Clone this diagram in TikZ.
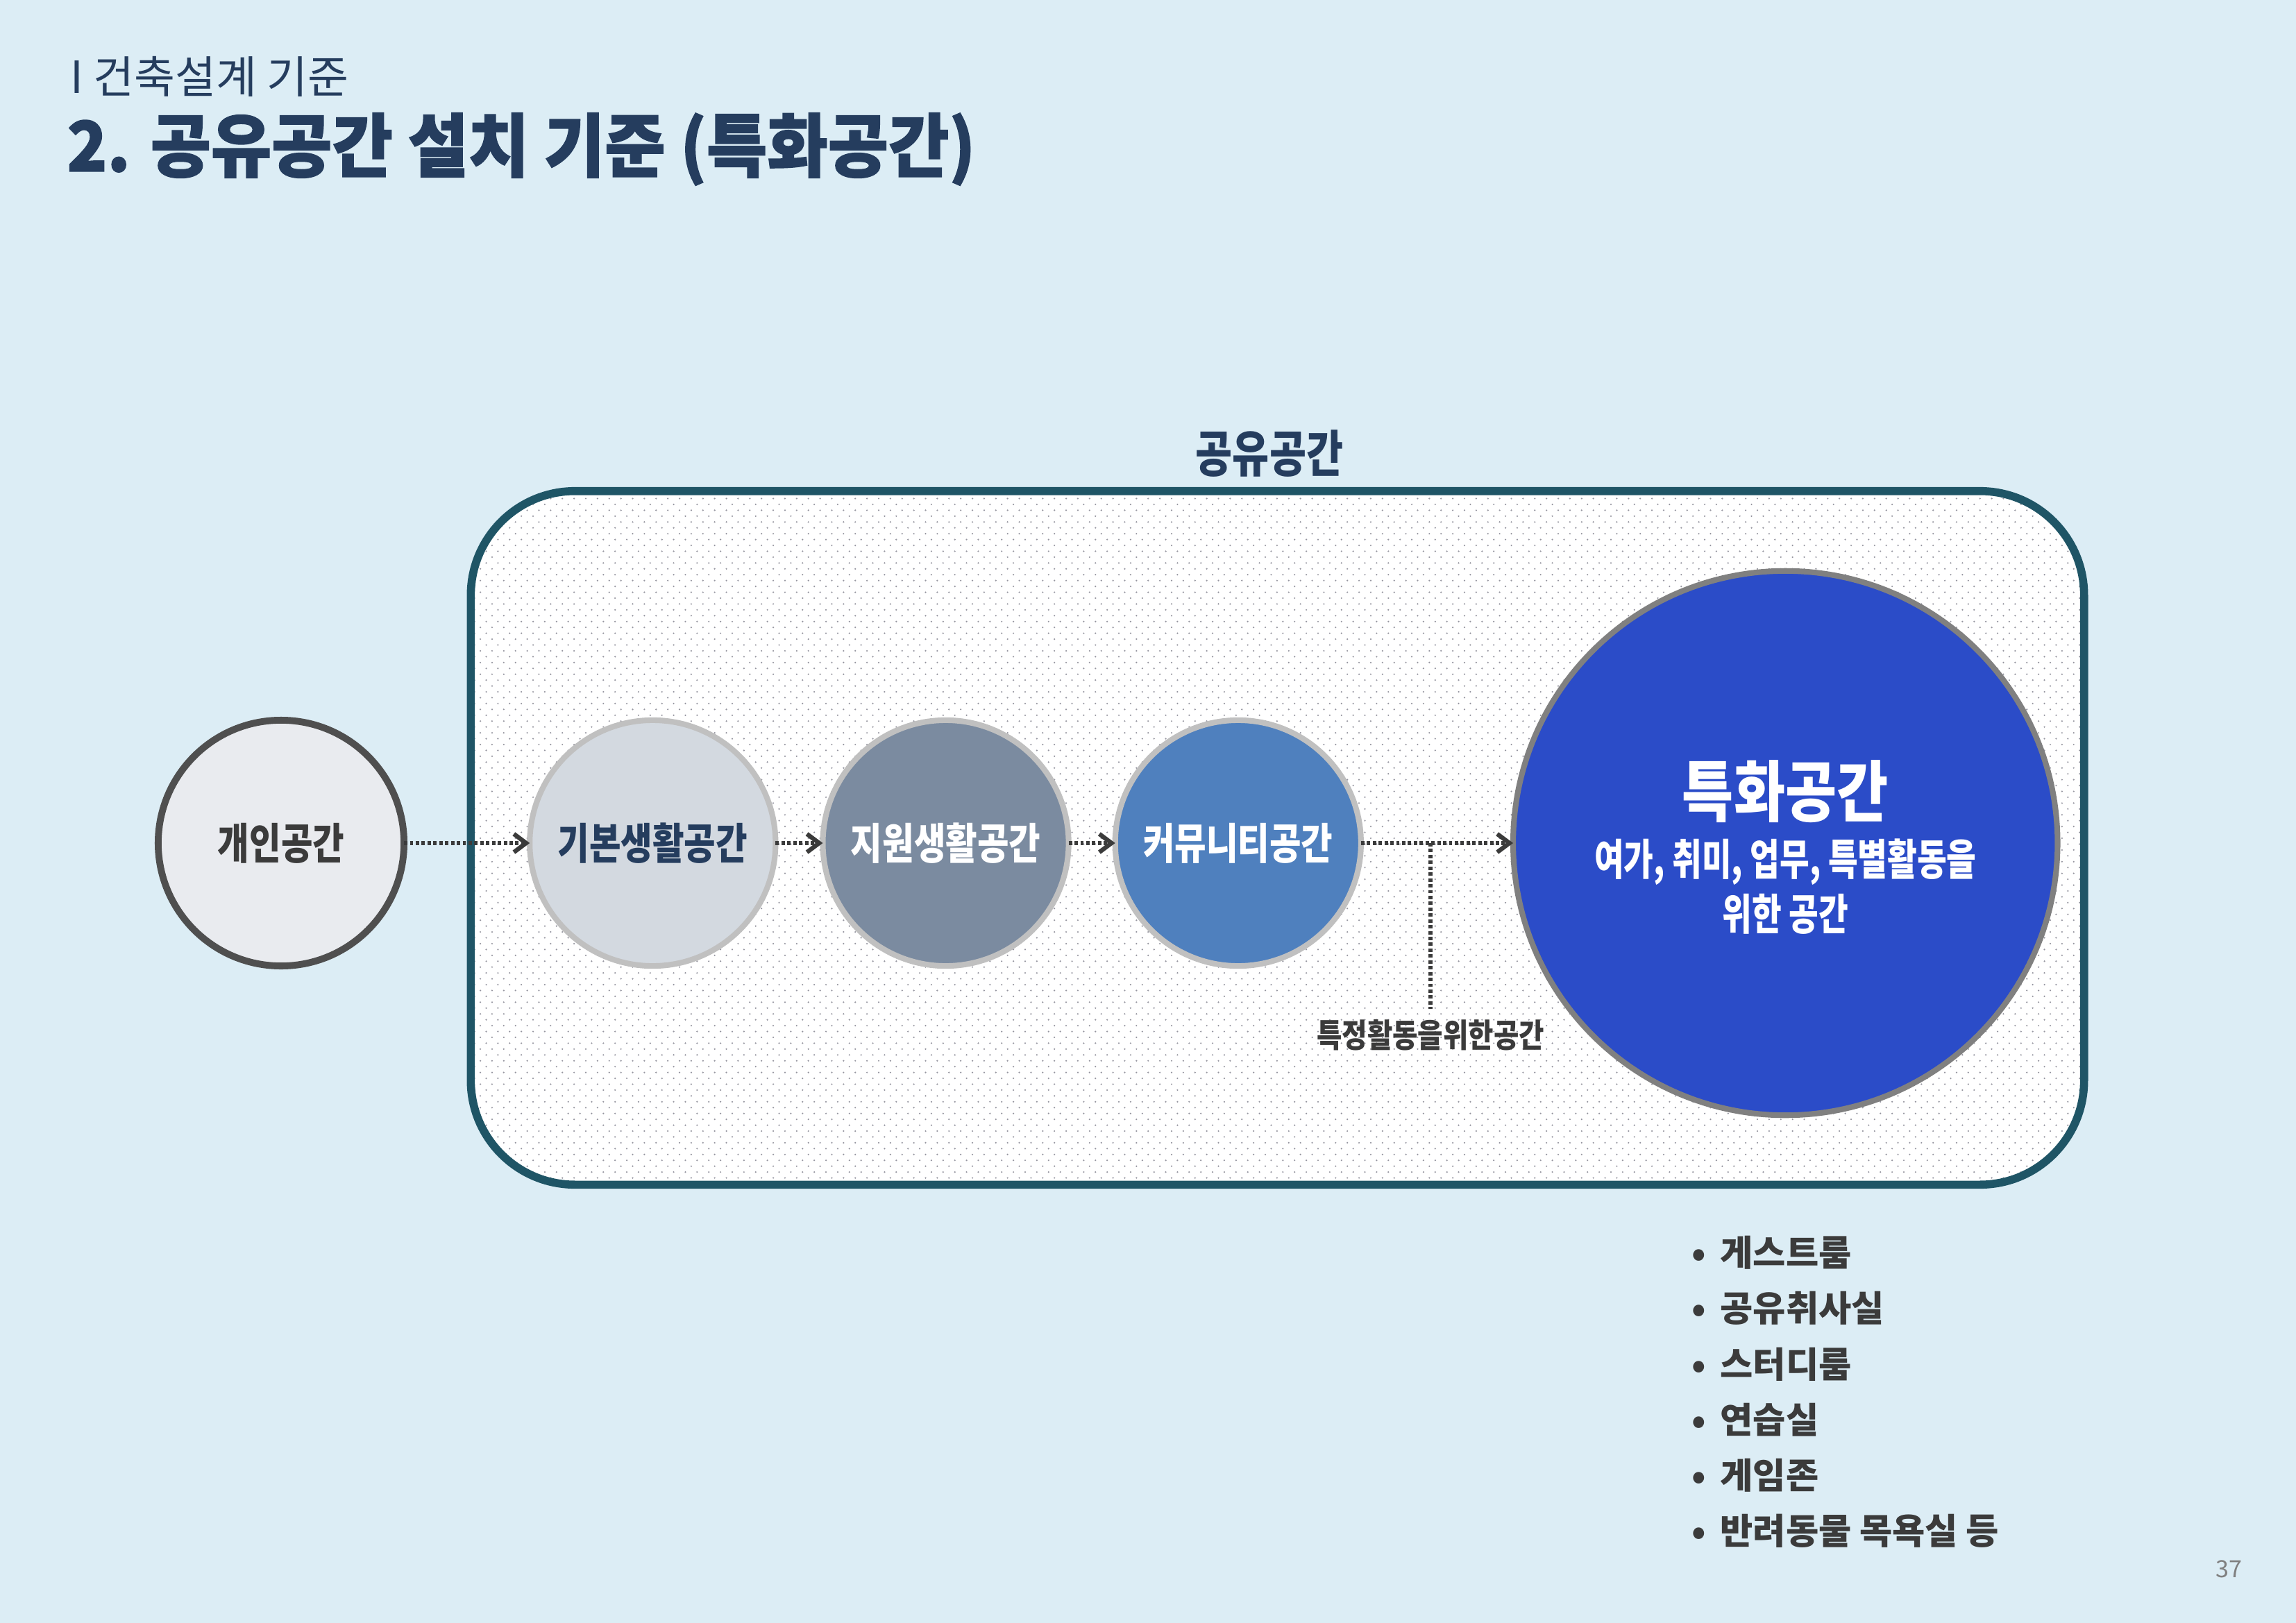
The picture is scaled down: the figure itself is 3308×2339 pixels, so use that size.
\documentclass[tikz,border=0pt]{standalone}
\usepackage{fontspec}
\setmainfont{Noto Sans CJK KR}
\newfontfamily\krheavy{Noto Sans CJK KR}[FakeStretch=0.95,FakeBold=1.5]
\newfontfamily\krbig{Noto Sans CJK KR}[FakeStretch=0.84]
\newfontfamily\krmid{Noto Sans CJK KR}[FakeStretch=0.8]
\newfontfamily\krnarrow{Noto Sans CJK KR}[FakeStretch=0.75]
\usetikzlibrary{arrows.meta,positioning,calc,patterns}
\definecolor{pagebg}{RGB}{220,237,245}
\definecolor{inknavy}{RGB}{37,61,94}
\definecolor{frameteal}{RGB}{31,85,102}
\definecolor{inkgrey}{RGB}{59,59,59}
\definecolor{personalfill}{RGB}{233,235,239}
\definecolor{personalring}{RGB}{79,79,79}
\definecolor{basicfill}{RGB}{211,217,224}
\definecolor{supportfill}{RGB}{123,139,160}
\definecolor{communityfill}{RGB}{79,128,190}
\definecolor{specialfill}{RGB}{43,76,200}
\definecolor{ringgrey}{RGB}{192,192,192}
\definecolor{dotgrey}{RGB}{150,150,160}
\pgfdeclarepatternformonly{paperdots}{\pgfqpoint{-0.5pt}{-0.5pt}}{\pgfqpoint{2.9pt}{2.9pt}}{\pgfqpoint{4.8pt}{4.8pt}}{%
  \pgfpathcircle{\pgfqpoint{0pt}{0pt}}{0.35pt}
  \pgfpathcircle{\pgfqpoint{2.4pt}{2.4pt}}{0.35pt}
  \pgfusepath{fill}}
\begin{document}
\begin{tikzpicture}[x=0.01cm,y=-0.01cm,>=Latex]
  \tikzset{bubble/.style={circle,draw=ringgrey,line width=2.3pt,minimum size=3.54cm,inner sep=0pt,outer sep=0pt,text=white,font=\krmid\bfseries\fontsize{17.6}{20}\selectfont}}
  \tikzset{flow/.style={draw=inkgrey,line width=1.8pt,dash pattern=on 1.4pt off 1pt,-{Straight Barb[length=5pt,width=7.5pt,line width=1.8pt]}}}
  \tikzset{link/.style={draw=inkgrey,line width=1.8pt,dash pattern=on 1.4pt off 1pt}}
  \useasboundingbox[fill=pagebg] (0,0) rectangle (3308,2339);
  \node[anchor=west,inner sep=0pt,text=inknavy,font=\fontsize{18.2}{22}\selectfont] (kicker) at (101,110) {I 건축설계 기준};
  \node[anchor=west,inner sep=0pt,text=inknavy,font=\krheavy\bfseries\fontsize{28.4}{32}\selectfont] (title) at (96,215) {2. 공유공간 설치 기준 (특화공간)};
  \node[draw=frameteal,line width=3.3pt,rounded corners=1.5cm,preaction={fill=white},pattern=paperdots,pattern color=dotgrey,minimum width=23.23cm,minimum height=9.99cm] (shared) at (1840.5,1207.5) {};
  \node[text=inknavy,font=\krmid\bfseries\fontsize{20.5}{24}\selectfont] (sharedlabel) at (1829,654) {공유공간};
  \node[bubble,fill=personalfill,draw=personalring,line width=2.8pt,text=inkgrey] (personal) at (405,1215) {개인공간};
  \node[bubble,right=1.81cm of personal,fill=basicfill,text=inknavy] (basic) {기본생활공간};
  \node[bubble,right=0.68cm of basic,fill=supportfill] (support) {지원생활공간};
  \node[bubble,right=0.67cm of support,fill=communityfill] (community) {커뮤니티공간};
  \node[bubble,right=2.19cm of community,fill=specialfill,draw=gray,minimum size=7.84cm,align=center,font=\krnarrow\bfseries\fontsize{17.6}{22.2}\selectfont] (special) {{\krbig\fontsize{27.3}{30}\selectfont\rule{0pt}{26.4pt}특화공간}\\[2pt]여가, 취미, 업무, 특별활동을\\위한 공간};
  \draw[flow] (personal) -- (basic);
  \draw[flow] (basic) -- (support);
  \draw[flow] (support) -- (community);
  \draw[flow] (community) -- (special);
  \coordinate (branch) at ($(community.east)!0.457!(special.west)$);
  \node[inner sep=1.5mm,text=inkgrey,font=\krbig\bfseries\fontsize{13.4}{16}\selectfont] (purpose) at ($(branch)+(0,277)$) {특정활동을위한공간};
  \draw[link] (branch) -- (purpose.north);
  \node[anchor=west,align=left,inner sep=0pt,text=inkgrey,font=\bfseries\fontsize{14.6}{22.8}\selectfont] (amenities) at (2437,2006) {•\, 게스트룸\\•\, 공유취사실\\•\, 스터디룸\\•\, 연습실\\•\, 게임존\\•\, 반려동물 목욕실 등};
  \node[text=gray,font=\fontsize{9.7}{12}\selectfont] (pageno) at (3211,2261) {37};
\end{tikzpicture}
\end{document}
